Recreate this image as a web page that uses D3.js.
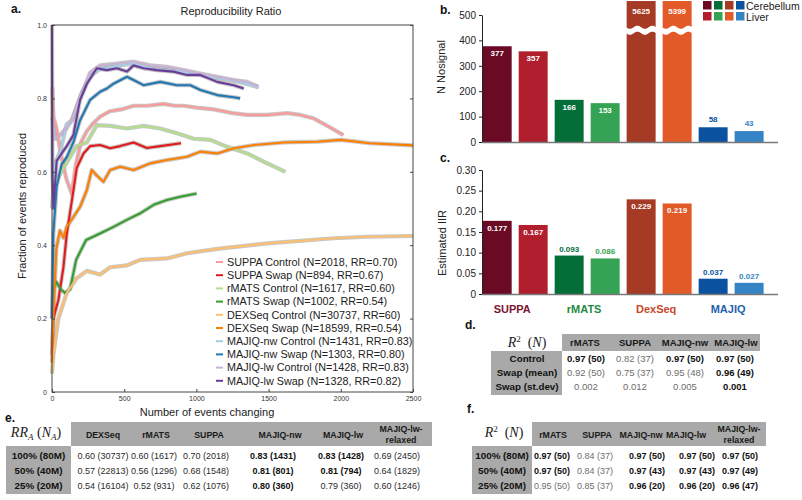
<!DOCTYPE html>
<html>
<head>
<meta charset="utf-8">
<script src="https://cdn.jsdelivr.net/npm/d3@7"></script>
<style>
  body { margin: 0; background: #fff; }
  svg { display: block; font-family: "Liberation Sans", Arial, sans-serif; }
</style>
</head>
<body>
<div id="chart"></div>
<script>
// ---- panel a: reproducibility ratio curves, [events changing, fraction reproduced]
var suppaControl = [[2,0.83],[10,0.75],[30,0.72],[60,0.65],[100,0.58],[137,0.54],[165,0.62],[200,0.68],[240,0.71],[280,0.73],[333,0.75],[400,0.765],[480,0.77],[565,0.78],[660,0.78],[773,0.785],[850,0.78],[912,0.78],[1000,0.775],[1120,0.77],[1250,0.76],[1352,0.755],[1490,0.755],[1630,0.76],[1720,0.755],[1815,0.745],[1930,0.72],[2018,0.70]];
var suppaSwap = [[0,0.1],[9,0.2],[44,0.25],[79,0.34],[102,0.43],[137,0.52],[171,0.61],[218,0.65],[264,0.67],[333,0.673],[403,0.664],[472,0.67],[565,0.68],[657,0.665],[750,0.67],[894,0.678]];
var rmatsControl = [[21,0.57],[79,0.61],[171,0.67],[241,0.68],[310,0.727],[403,0.725],[519,0.718],[634,0.725],[750,0.718],[866,0.705],[982,0.69],[1097,0.687],[1213,0.668],[1352,0.65],[1491,0.623],[1617,0.60]];
var rmatsSwap = [[0,0.2],[9,0.28],[30,0.3],[60,0.28],[90,0.27],[125,0.28],[167,0.36],[236,0.414],[333,0.432],[426,0.45],[518,0.469],[611,0.487],[704,0.51],[796,0.523],[889,0.532],[1002,0.541]];
var dexseqControl = [[0,0.05],[9,0.1],[44,0.2],[102,0.27],[171,0.31],[241,0.33],[333,0.32],[403,0.34],[519,0.345],[611,0.36],[796,0.364],[935,0.378],[1144,0.39],[1491,0.405],[1954,0.419],[2185,0.423],[2500,0.425]];
var dexseqSwap = [[0,0.08],[9,0.2],[30,0.39],[55,0.44],[79,0.42],[102,0.45],[137,0.47],[195,0.505],[241,0.55],[275,0.605],[310,0.59],[356,0.573],[403,0.605],[472,0.614],[565,0.605],[680,0.623],[796,0.632],[935,0.641],[1028,0.655],[1144,0.65],[1260,0.664],[1400,0.673],[1606,0.68],[1838,0.682],[2000,0.687],[2200,0.678],[2500,0.672]];
var majiqNwControl = [[0,0.5],[20,0.62],[60,0.66],[102,0.73],[137,0.74],[200,0.81],[264,0.86],[333,0.88],[472,0.89],[565,0.895],[700,0.88],[850,0.875],[1000,0.865],[1150,0.855],[1300,0.845],[1431,0.83]];
var majiqNwSwap = [[0,0.2],[9,0.43],[32,0.56],[67,0.62],[102,0.64],[148,0.68],[194,0.74],[264,0.796],[333,0.818],[380,0.827],[426,0.84],[519,0.859],[565,0.85],[634,0.836],[750,0.845],[866,0.836],[958,0.836],[1028,0.823],[1144,0.809],[1259,0.803],[1303,0.80]];
var majiqLwControl = [[0,0.75],[21,0.69],[56,0.7],[102,0.72],[137,0.74],[194,0.8],[264,0.87],[333,0.89],[449,0.895],[565,0.9],[681,0.89],[796,0.886],[912,0.877],[1028,0.868],[1144,0.859],[1259,0.85],[1352,0.845],[1428,0.832]];
var majiqLwSwap = [[0,1.0],[3,0.6],[10,0.5],[32,0.63],[67,0.65],[102,0.67],[148,0.70],[194,0.796],[241,0.84],[310,0.882],[380,0.877],[449,0.882],[519,0.873],[565,0.89],[634,0.882],[727,0.877],[843,0.873],[935,0.864],[1028,0.864],[1144,0.845],[1259,0.836],[1328,0.827]];

var curveSeries = [suppaControl, suppaSwap, rmatsControl, rmatsSwap, dexseqControl, dexseqSwap, majiqNwControl, majiqNwSwap, majiqLwControl, majiqLwSwap];
var curveNames = ["SUPPA Control (N=2018, RR=0.70)", "SUPPA Swap (N=894, RR=0.67)", "rMATS Control (N=1617, RR=0.60)", "rMATS Swap (N=1002, RR=0.54)", "DEXSeq Control (N=30737, RR=60)", "DEXSeq Swap (N=18599, RR=0.54)", "MAJIQ-nw Control (N=1431, RR=0.83)", "MAJIQ-nw Swap (N=1303, RR=0.80)", "MAJIQ-lw Control (N=1428, RR=0.83)", "MAJIQ-lw Swap (N=1328, RR=0.82)"];
var curveColors = ["#fb9a99", "#e31a1c", "#b2df8a", "#33a02c", "#fdbf6f", "#ff7f00", "#a6cee3", "#1f78b4", "#cab2d6", "#6a3d9a"];
var xTicksA = [0, 500, 1000, 1500, 2000, 2500];
var yTicksA = [0, 0.2, 0.4, 0.6, 0.8, 1.0];

// ---- panels b and c: bars (Cerebellum, Liver per tool)
var tools = ["SUPPA", "rMATS", "DexSeq", "MAJIQ"];
var tissues = ["Cerebellum", "Liver"];
var nNosignal = [377, 357, 166, 153, 5625, 5399, 58, 43];
var estimatedIIR = [0.177, 0.167, 0.093, 0.086, 0.229, 0.219, 0.037, 0.027];
var barColors = ["#6a0a25", "#b11f2f", "#046e38", "#34a353", "#a53a25", "#e25a27", "#0a52a0", "#3483c4"];
var toolColors = ["#7b1431", "#1f8a43", "#c8452a", "#1f5fae"];
var yTicksB = [0, 100, 200, 300, 400, 500];
var yTicksC = [0, 0.05, 0.10, 0.15, 0.20, 0.25, 0.30];

// ---- panel d table
var dCols = ["rMATS", "SUPPA", "MAJIQ-nw", "MAJIQ-lw"];
var dRows = ["Control", "Swap (mean)", "Swap (st.dev)"];
var dVals = [["0.97 (50)", "0.82 (37)", "0.97 (50)", "0.97 (50)"],
             ["0.92 (50)", "0.75 (37)", "0.95 (48)", "0.96 (49)"],
             ["0.002", "0.012", "0.005", "0.001"]];
var dBold = [[1, 0, 1, 1], [0, 0, 0, 1], [0, 0, 0, 1]];

// ---- panel e table
var eCols = ["DEXSeq", "rMATS", "SUPPA", "MAJIQ-nw", "MAJIQ-lw", "MAJIQ-lw-\nrelaxed"];
var eRows = ["100% (80M)", "50% (40M)", "25% (20M)"];
var eVals = [["0.60 (30737)", "0.60 (1617)", "0.70 (2018)", "0.83 (1431)", "0.83 (1428)", "0.69 (2450)"],
             ["0.57 (22813)", "0.56 (1296)", "0.68 (1548)", "0.81 (801)", "0.81 (794)", "0.64 (1829)"],
             ["0.54 (16104)", "0.52 (931)", "0.62 (1076)", "0.80 (360)", "0.79 (360)", "0.60 (1246)"]];
var eBold = [[0, 0, 0, 1, 1, 0], [0, 0, 0, 1, 1, 0], [0, 0, 0, 1, 0, 0]];

// ---- panel f table
var fCols = ["rMATS", "SUPPA", "MAJIQ-nw", "MAJIQ-lw", "MAJIQ-lw-\nrelaxed"];
var fRows = ["100% (80M)", "50% (40M)", "25% (20M)"];
var fVals = [["0.97 (50)", "0.84 (37)", "0.97 (50)", "0.97 (50)", "0.97 (50)"],
             ["0.97 (50)", "0.84 (37)", "0.97 (43)", "0.97 (43)", "0.97 (49)"],
             ["0.95 (50)", "0.85 (37)", "0.96 (20)", "0.96 (20)", "0.96 (47)"]];
var fBold = [[1, 0, 1, 1, 1], [1, 0, 1, 1, 1], [0, 0, 1, 1, 1]];

var width = 802, height = 500;
var svg = d3.select('#chart').append('svg')
    .attr('width', width)
    .attr('height', height);
svg.append('rect').attr('width', width).attr('height', height).attr('fill', '#fff');

function panelLabel(t, x, y) {
    svg.append('text').attr('x', x).attr('y', y).text(t)
        .attr('font-size', 12).attr('font-weight', 'bold').attr('fill', '#111');
}

// =================== panel a ===================
var xA = d3.scaleLinear().domain([0, 2500]).range([52, 413]);
var yA = d3.scaleLinear().domain([0, 1]).range([392, 25]);

panelLabel('a.', 11, 13);
svg.append('text').attr('x', 231).attr('y', 15).attr('text-anchor', 'middle')
    .attr('font-size', 11).attr('fill', '#222').text('Reproducibility Ratio');

var line = d3.line().x(function(d){ return xA(d[0]); }).y(function(d){ return yA(d[1]); });
var gA = svg.append('g');
curveSeries.forEach(function(s, i){
    gA.append('path').attr('d', line(s)).attr('fill', 'none')
        .attr('stroke', '#999').attr('stroke-opacity', 0.55).attr('stroke-width', 4.2)
        .attr('stroke-linejoin', 'round');
});
curveSeries.forEach(function(s, i){
    gA.append('path').attr('d', line(s)).attr('fill', 'none')
        .attr('stroke', curveColors[i]).attr('stroke-width', 2.1)
        .attr('stroke-linejoin', 'round');
});

svg.append('rect').attr('x', 52).attr('y', 25).attr('width', 361).attr('height', 367)
    .attr('fill', 'none').attr('stroke', '#444').attr('stroke-width', 1);

var axA = svg.append('g').attr('transform', 'translate(0,392)')
    .call(d3.axisBottom(xA).tickValues(xTicksA).tickSize(-3).tickPadding(4).tickFormat(d3.format('d')));
var ayA = svg.append('g').attr('transform', 'translate(52,0)')
    .call(d3.axisLeft(yA).tickValues(yTicksA).tickSize(-3).tickPadding(5)
        .tickFormat(function(d){ return d === 0 ? '0' : d3.format('.1f')(d); }));
var ayA2 = svg.append('g').attr('transform', 'translate(413,0)')
    .call(d3.axisRight(yA).tickValues(yTicksA).tickSize(-3).tickFormat(''));
[axA, ayA, ayA2].forEach(function(g){
    g.select('.domain').remove();
    g.selectAll('line').attr('stroke', '#444');
    g.selectAll('text').attr('font-size', 7).attr('fill', '#333').attr('font-family', '"Liberation Sans", Arial, sans-serif');
});

svg.append('text').attr('transform', 'translate(26,206) rotate(-90)')
    .attr('text-anchor', 'middle').attr('font-size', 11).attr('fill', '#222')
    .text('Fraction of events reproduced');
svg.append('text').attr('x', 207).attr('y', 416).attr('text-anchor', 'middle')
    .attr('font-size', 11).attr('fill', '#222').text('Number of events changing');

var legA = svg.append('g');
curveNames.forEach(function(n, i){
    var y = 262 + i * 13.2;
    legA.append('line').attr('x1', 216).attr('x2', 223).attr('y1', y).attr('y2', y)
        .attr('stroke', curveColors[i]).attr('stroke-width', 2);
    legA.append('text').attr('x', 227).attr('y', y + 3.8).attr('font-size', 10.8)
        .attr('fill', '#222').text(n);
});

// =================== panels b, c ===================
var xB = d3.scaleBand().domain(d3.range(nNosignal.length)).range([482.7, 778])
    .paddingInner(0.195).paddingOuter(0.2).align(0);
var bw = xB.bandwidth();

// b
panelLabel('b.', 440, 14);
var yB = d3.scaleLinear().domain([0, 500]).range([142, 15]);
var breakAt = 440, barCap = 555;
var gB = svg.append('g');
gB.selectAll('rect').data(nNosignal).enter().append('rect')
    .attr('x', function(d, i){ return xB(i); })
    .attr('y', function(d){ return yB(Math.min(d, barCap)); })
    .attr('width', bw)
    .attr('height', function(d){ return yB(0) - yB(Math.min(d, barCap)); })
    .attr('fill', function(d, i){ return barColors[i]; });
// wavy break for the very tall bars
var wave = d3.range(0, 1.0001, 0.05);
nNosignal.forEach(function(d, i){
    if (d <= 500) return;
    var x0 = xB(i) - 0.5, yc = yB(breakAt);
    var top = wave.map(function(t){ return [x0 + t * (bw + 1), yc - 3 + 1.6 * Math.sin(t * Math.PI * 4)]; });
    var bot = wave.slice().reverse().map(function(t){ return [x0 + t * (bw + 1), yc + 3 + 1.6 * Math.sin(t * Math.PI * 4)]; });
    gB.append('path').attr('d', d3.line()(top.concat(bot)) + 'Z').attr('fill', '#fff');
});
gB.selectAll('text.val').data(nNosignal).enter().append('text')
    .attr('class', 'val')
    .attr('x', function(d, i){ return xB(i) + bw / 2; })
    .attr('y', function(d){
        var t = yB(Math.min(d, barCap));
        return d > 100 ? Math.max(t, 4) + 10 : t - 5;
    })
    .attr('text-anchor', 'middle').attr('font-size', 8).attr('font-weight', 'bold')
    .attr('fill', function(d, i){ return d > 100 ? '#fff' : barColors[i]; })
    .text(function(d){ return d; });
var ayB = svg.append('g').attr('transform', 'translate(482,0)')
    .call(d3.axisLeft(yB).tickValues(yTicksB).tickSize(3).tickSizeOuter(0).tickPadding(3));
svg.append('line').attr('x1', 482).attr('x2', 778).attr('y1', 142.5).attr('y2', 142.5)
    .attr('stroke', '#777').attr('stroke-width', 1.5);
svg.append('text').attr('transform', 'translate(445,67) rotate(-90)')
    .attr('text-anchor', 'middle').attr('font-size', 11).attr('fill', '#222').text('N Nosignal');

// legend b
var legB = svg.append('g');
tissues.forEach(function(t, r){
    tools.forEach(function(tool, k){
        legB.append('rect').attr('x', 703 + k * 11).attr('y', 1 + r * 11)
            .attr('width', 8.5).attr('height', 8.5).attr('fill', barColors[k * 2 + r]);
    });
    legB.append('text').attr('x', 746).attr('y', 9.5 + r * 11).attr('font-size', 10.5)
        .attr('fill', '#222').text(t);
});

// c
panelLabel('c.', 440, 162);
var yC = d3.scaleLinear().domain([0, 0.3]).range([294, 170]);
var gC = svg.append('g');
gC.selectAll('rect').data(estimatedIIR).enter().append('rect')
    .attr('x', function(d, i){ return xB(i); })
    .attr('y', function(d){ return yC(d); })
    .attr('width', bw)
    .attr('height', function(d){ return yC(0) - yC(d); })
    .attr('fill', function(d, i){ return barColors[i]; });
gC.selectAll('text.val').data(estimatedIIR).enter().append('text')
    .attr('class', 'val')
    .attr('x', function(d, i){ return xB(i) + bw / 2; })
    .attr('y', function(d){ return d > 0.15 ? yC(d) + 10 : yC(d) - 4; })
    .attr('text-anchor', 'middle').attr('font-size', 8).attr('font-weight', 'bold')
    .attr('fill', function(d, i){ return d > 0.15 ? '#fff' : barColors[i]; })
    .text(function(d){ return d3.format('.3f')(d); });
var ayC = svg.append('g').attr('transform', 'translate(482,0)')
    .call(d3.axisLeft(yC).tickValues(yTicksC).tickSize(3).tickSizeOuter(0).tickPadding(3)
        .tickFormat(function(d){ return d === 0 ? '0' : d3.format('.2f')(d); }));
svg.append('line').attr('x1', 482).attr('x2', 778).attr('y1', 294.5).attr('y2', 294.5)
    .attr('stroke', '#777').attr('stroke-width', 1.5);
svg.append('text').attr('transform', 'translate(446,243) rotate(-90)')
    .attr('text-anchor', 'middle').attr('font-size', 11).attr('fill', '#222').text('Estimated IIR');

[ayB, ayC].forEach(function(g){
    g.select('.domain').attr('stroke', '#222');
    g.selectAll('line').attr('stroke', '#222');
    g.selectAll('text').attr('font-size', 10).attr('fill', '#222').attr('font-family', '"Liberation Sans", Arial, sans-serif');
});

tools.forEach(function(t, k){
    svg.append('text')
        .attr('x', (xB(2 * k) + xB(2 * k + 1) + bw) / 2 - 3)
        .attr('y', 313).attr('text-anchor', 'middle')
        .attr('font-size', 11).attr('font-weight', 'bold').attr('fill', toolColors[k]).text(t);
});

// =================== tables ===================
var tableGrey = '#a8a9a8';

function mathLabel(x, y, sub) {
    var t = svg.append('text').attr('x', x).attr('y', y).attr('text-anchor', 'middle')
        .attr('font-family', '"Liberation Serif", "DejaVu Serif", serif').attr('font-size', 14).attr('fill', '#222');
    if (sub) {
        t.append('tspan').attr('font-style', 'italic').text('RR');
        t.append('tspan').attr('font-style', 'italic').attr('font-size', 9).attr('dy', 3).text('A');
        t.append('tspan').attr('dy', -3).text('\u00a0(');
        t.append('tspan').attr('font-style', 'italic').text('N');
        t.append('tspan').attr('font-style', 'italic').attr('font-size', 9).attr('dy', 3).text('A');
        t.append('tspan').attr('dy', -3).text(')');
    } else {
        t.append('tspan').attr('font-style', 'italic').text('R');
        t.append('tspan').attr('font-size', 9).attr('dy', -5).text('2');
        t.append('tspan').attr('dy', 5).text('\u00a0\u00a0(');
        t.append('tspan').attr('font-style', 'italic').text('N');
        t.append('tspan').text(')');
    }
}

function drawTable(o) {
    svg.append('rect').attr('x', o.hx0).attr('y', o.hy0).attr('width', o.hx1 - o.hx0)
        .attr('height', o.hy1 - o.hy0).attr('fill', tableGrey);
    svg.append('rect').attr('x', o.rx0).attr('y', o.hy1).attr('width', o.hx0 - o.rx0)
        .attr('height', o.ry1 - o.hy1).attr('fill', tableGrey);
    o.cols.forEach(function(c, j){
        var parts = c.split('\n');
        parts.forEach(function(p, k){
            var y = parts.length === 1 ? o.headY : o.headY - 6 + k * 11;
            svg.append('text').attr('x', o.colX[j]).attr('y', y).attr('text-anchor', 'middle')
                .attr('font-size', o.headSize).attr('font-weight', 'bold').attr('fill', '#1a1a1a').text(p);
        });
    });
    o.rows.forEach(function(r, i){
        var y = o.rowY[i];
        svg.append('text').attr('x', o.rowLabelX).attr('y', y).attr('text-anchor', 'middle')
            .attr('font-size', o.labelSize).attr('font-weight', 'bold').attr('fill', '#111').text(r);
        o.vals[i].forEach(function(v, j){
            var b = o.bold[i][j];
            svg.append('text').attr('x', o.valX[j]).attr('y', y).attr('text-anchor', 'middle')
                .attr('font-size', o.size).attr('font-weight', b ? 'bold' : 'normal')
                .attr('fill', b ? '#111' : o.normalColor).text(v);
        });
    });
}

// d
panelLabel('d.', 465, 329);
mathLabel(527, 347, false);
drawTable({
    cols: dCols, rows: dRows, vals: dVals, bold: dBold,
    hx0: 562, hx1: 760, hy0: 334, hy1: 351, rx0: 491, ry1: 395,
    colX: [585, 635, 685, 736], valX: [586, 635, 685, 735],
    headY: 346, rowY: [362, 376, 390], rowLabelX: 527,
    headSize: 9.5, size: 9.5, labelSize: 9.8, normalColor: '#6e6e6e'
});

// e
panelLabel('e.', 5, 422);
mathLabel(36, 437, true);
drawTable({
    cols: eCols, rows: eRows, vals: eVals, bold: eBold,
    hx0: 71, hx1: 432, hy0: 422, hy1: 446, rx0: 6, ry1: 494,
    colX: [103, 156, 209, 280, 343, 401], valX: [103, 154, 206, 273, 341, 397],
    headY: 438, rowY: [459, 474, 489], rowLabelX: 38.5,
    headSize: 8.8, size: 9, labelSize: 9.8, normalColor: '#2a2a2a'
});

// f
panelLabel('f.', 467, 413);
mathLabel(504, 437, false);
drawTable({
    cols: fCols, rows: fRows, vals: fVals, bold: fBold,
    hx0: 532, hx1: 766, hy0: 422, hy1: 446, rx0: 472, ry1: 494,
    colX: [553, 597, 641, 686, 739], valX: [552, 595, 647, 697, 740],
    headY: 438, rowY: [459, 474, 489], rowLabelX: 502,
    headSize: 8.8, size: 9, labelSize: 9.8, normalColor: '#6e6e6e'
});
</script>
</body>
</html>
